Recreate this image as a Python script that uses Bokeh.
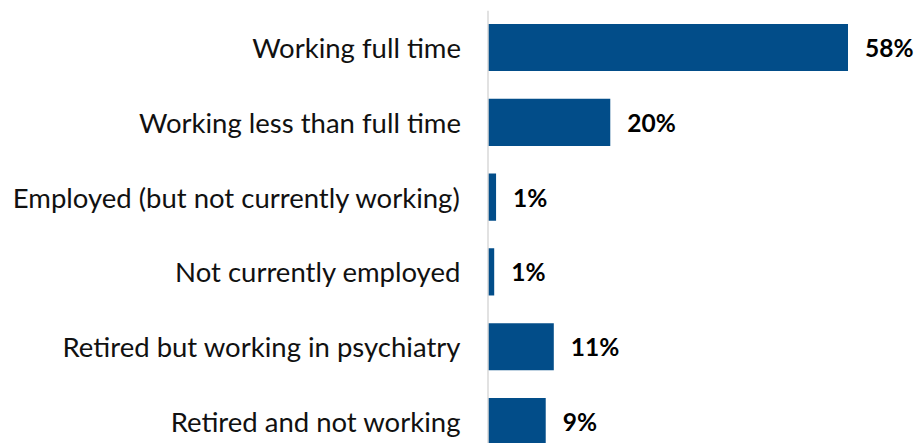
from bokeh.plotting import figure
from bokeh.models import ColumnDataSource, Range1d, Span
from bokeh.core.properties import value
from bokeh.embed import file_html
from bokeh.resources import INLINE

categories = [
    "Working full time",
    "Working less than full time",
    "Employed (but not currently working)",
    "Not currently employed",
    "Retired but working in psychiatry",
    "Retired and not working",
]
values = [58, 19.7, 1.3, 1.0, 10.6, 9.3]
value_labels = ["58%", "20%", "1%", "1%", "11%", "9%"]

positions = list(range(len(categories)))

src = ColumnDataSource(dict(
    y=positions, v=values, cat=categories, lab=value_labels, zero=[0] * len(categories)
))

px_per_unit = 360 / 58.0
W, H = 917, 443
axis_px = 487.5
x_start = -axis_px / px_per_unit
x_end = (W - axis_px) / px_per_unit

p = figure(width=W, height=H, output_backend="svg", toolbar_location=None,
           x_range=Range1d(x_start, x_end),
           y_range=Range1d(5.294, -0.495),
           x_axis_location=None, y_axis_location=None,
           min_border_left=0, min_border_right=0, min_border_bottom=0, min_border_top=10)
p.outline_line_color = None
p.xgrid.visible = False
p.ygrid.visible = False
p.background_fill_color = "white"
p.border_fill_color = "white"

p.add_layout(Span(location=0, dimension="height", line_color="#d9d9d9", line_width=1.5))

p.hbar(y="y", left=0, right="v", height=0.63, source=src,
       fill_color="#024D89", line_color=None)

p.text(x="zero", y="y", text="cat", source=src, x_offset=-27,
       text_align="right", text_baseline="middle",
       text_font=value("Lato"), text_font_size="27.5px", text_color="#111111")

p.text(x="v", y="y", text="lab", source=src, x_offset=17,
       text_align="left", text_baseline="middle",
       text_font=value("Lato"), text_font_size="24.5px", text_font_style="bold",
       text_color="#000000")

open("out.html", "w").write(file_html(p, INLINE))
